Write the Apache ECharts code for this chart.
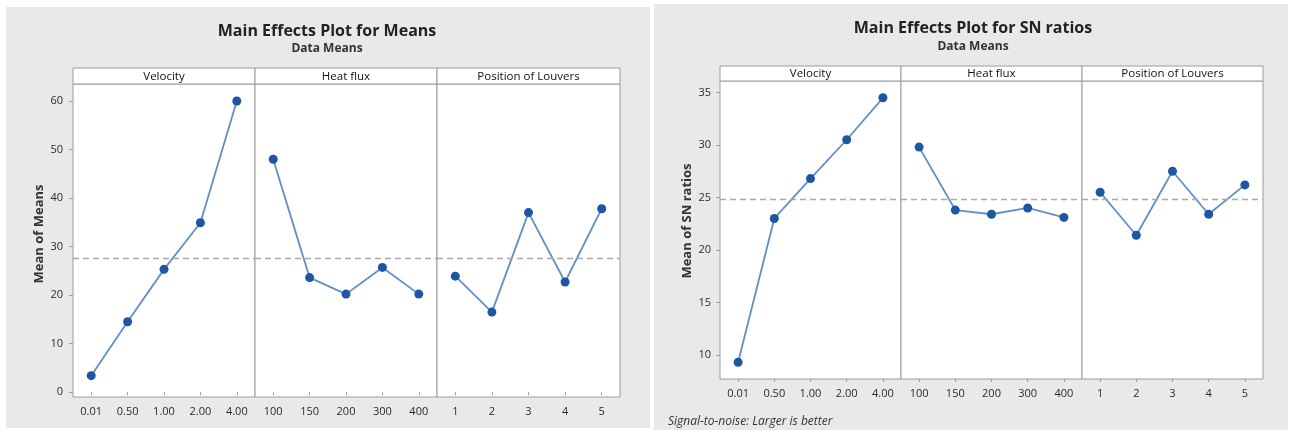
<!DOCTYPE html>
<html><head><meta charset="utf-8">
<script src="https://cdn.jsdelivr.net/npm/echarts@6/dist/echarts.min.js"></script>
<style>html,body{margin:0;padding:0;background:#fff}#c{width:1292px;height:432px}</style>
</head><body><div id="c"></div>
<script>
// ---- data ----
const factors = ['Velocity', 'Heat flux', 'Position of Louvers'];
const velocityLevels = ['0.01', '0.50', '1.00', '2.00', '4.00'];
const heatFluxLevels = ['100', '150', '200', '300', '400'];
const louverLevels = ['1', '2', '3', '4', '5'];
const meansVelocity = [3.4, 14.5, 25.3, 34.9, 60.0];
const meansHeatFlux = [48.0, 23.6, 20.2, 25.7, 20.2];
const meansLouvers = [23.9, 16.5, 37.0, 22.7, 37.8];
const snVelocity = [9.3, 23.0, 26.8, 30.5, 34.5];
const snHeatFlux = [29.8, 23.8, 23.4, 24.0, 23.1];
const snLouvers = [25.5, 21.4, 27.5, 23.4, 26.2];
const meansTicks = [0, 10, 20, 30, 40, 50, 60];
const snTicks = [10, 15, 20, 25, 30, 35];

// ---- styling / layout ----
const FONT = '"Open Sans", "Noto Sans", sans-serif';
const LINE = '#5f90c9', DOT = '#1d56a3', FRAME = '#9c9c9c', TXT = '#2a2a2a';
const levels = [velocityLevels, heatFluxLevels, louverLevels];
const charts = [
  { title: 'Main Effects Plot for Means', titleX: 327, titleY: 31, subY: 49,
    ylabel: 'Mean of Means', ylabelX: 39, ylabelY: 234,
    lefts: [73, 255, 437, 620], top: 84, bottom: 397, stripTop: 68,
    min: -1, max: 63.5, ticks: meansTicks,
    data: [meansVelocity, meansHeatFlux, meansLouvers], labelMargin: 10 },
  { title: 'Main Effects Plot for SN ratios', titleX: 973, titleY: 28, subY: 47,
    ylabel: 'Mean of SN ratios', ylabelX: 687, ylabelY: 221,
    lefts: [720, 901, 1082, 1263], top: 81, bottom: 379, stripTop: 66,
    min: 7.7, max: 36.1, ticks: snTicks,
    data: [snVelocity, snHeatFlux, snLouvers], labelMargin: 9 }
];

const grid = [], xAxis = [], yAxis = [], series = [];
const graphic = [
  { type: 'rect', shape: { x: 6, y: 7, width: 644, height: 421 }, style: { fill: '#e9e9e9' }, z: -10 },
  { type: 'rect', shape: { x: 654, y: 4, width: 634, height: 426 }, style: { fill: '#e9e9e9' }, z: -10 }
];

charts.forEach((c, ci) => {
  const all = c.data.flat();
  const grand = all.reduce((a, b) => a + b, 0) / all.length;
  graphic.push({ type: 'text', x: c.titleX, y: c.titleY,
    style: { text: c.title, font: 'bold 16px ' + FONT, fill: '#222', textAlign: 'center', textVerticalAlign: 'middle' } });
  graphic.push({ type: 'text', x: c.titleX, y: c.subY,
    style: { text: 'Data Means', font: 'bold 12px ' + FONT, fill: '#333', textAlign: 'center', textVerticalAlign: 'middle' } });
  graphic.push({ type: 'text', x: c.ylabelX, y: c.ylabelY, rotation: Math.PI / 2,
    style: { text: c.ylabel, font: 'bold 13px ' + FONT, fill: '#333', textAlign: 'center', textVerticalAlign: 'middle' } });
  for (let p = 0; p < 3; p++) {
    const idx = ci * 3 + p;
    const l = c.lefts[p], r = c.lefts[p + 1];
    grid.push({ left: l, width: r - l, top: c.top, height: c.bottom - c.top,
      show: true, backgroundColor: '#fff', borderColor: FRAME, borderWidth: 1, containLabel: false });
    graphic.push({ type: 'rect', shape: { x: l, y: c.stripTop, width: r - l, height: c.top - c.stripTop },
      style: { fill: '#fff', stroke: FRAME, lineWidth: 1 } });
    graphic.push({ type: 'text', x: (l + r) / 2, y: (c.stripTop + c.top) / 2 + 0.5,
      style: { text: factors[p], font: '11.5px ' + FONT, fill: '#111', textAlign: 'center', textVerticalAlign: 'middle' } });
    xAxis.push({ type: 'category', gridIndex: idx, data: levels[p], boundaryGap: true,
      axisLine: { show: false },
      axisTick: { show: true, alignWithLabel: true, length: 3, lineStyle: { color: FRAME } },
      axisLabel: { color: TXT, fontFamily: FONT, fontSize: 11, margin: 9 } });
    yAxis.push({ type: 'value', gridIndex: idx, min: c.min, max: c.max, show: p === 0,
      splitLine: { show: false }, axisLine: { show: false },
      axisTick: { show: true, length: 4, customValues: c.ticks, lineStyle: { color: FRAME } },
      axisLabel: { color: TXT, fontFamily: FONT, fontSize: 11, margin: c.labelMargin, customValues: c.ticks } });
    series.push({ type: 'line', xAxisIndex: idx, yAxisIndex: idx, data: c.data[p],
      symbol: 'circle', symbolSize: 9, lineStyle: { color: LINE, width: 1.8 },
      itemStyle: { color: DOT }, z: 3,
      markLine: { silent: true, symbol: 'none', label: { show: false },
        lineStyle: { color: '#a9a9a9', type: [6, 4], width: 1.3 }, data: [{ yAxis: grand }] } });
  }
});

graphic.push({ type: 'text', x: 668, y: 422,
  style: { text: 'Signal-to-noise: Larger is better', font: 'italic 12px ' + FONT, fill: '#333', textAlign: 'left', textVerticalAlign: 'middle' } });

const chart = echarts.init(document.getElementById('c'), null, { renderer: 'canvas' });
chart.setOption({ animation: false, backgroundColor: '#fff', grid, xAxis, yAxis, series, graphic });
</script></body></html>
